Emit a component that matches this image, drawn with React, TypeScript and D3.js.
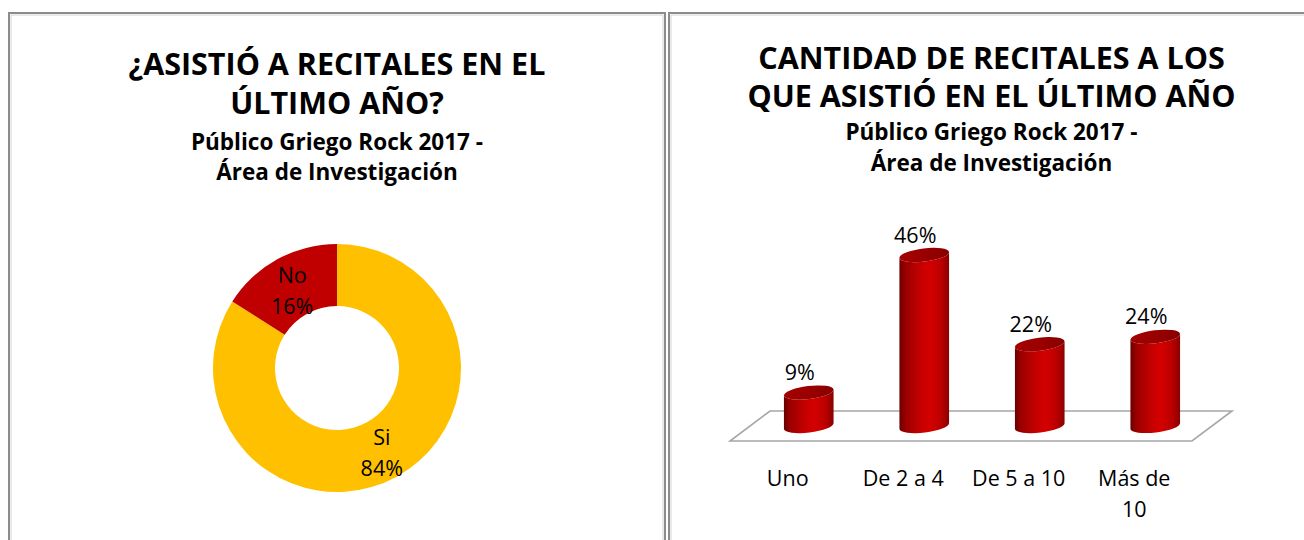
import React from "react";
import * as d3 from "d3";

// datos de los dos gráficos
const pieLabels = ["Si", "No"];
const pieValues = [84, 16];
const pieColors = ["#FFC000", "#C00000"];

const barCategories = [["Uno"], ["De 2 a 4"], ["De 5 a 10"], ["Más de", "10"]];
const barValues = [9, 46, 22, 24];

const leftTitle = ["¿ASISTIÓ A RECITALES EN EL", "ÚLTIMO AÑO?"];
const rightTitle = ["CANTIDAD DE RECITALES A LOS", "QUE ASISTIÓ EN EL ÚLTIMO AÑO"];
const subtitle = ["Público Griego Rock 2017 -", "Área de Investigación"];

const W = 1304;
const H = 540;
const FONT = "'Open Sans', 'Noto Sans', sans-serif";

const Frame = ({ x0, x1, y0 }: { x0: number; x1: number; y0: number }) => (
  <g fill="none">
    <path d={`M${x0},${H + 5}V${y0}H${x1}V${H + 5}`} stroke="#8c8c8c" strokeWidth={2} />
    <path d={`M${x0 + 2},${H + 5}V${y0 + 2}H${x1 - 2}V${H + 5}`} stroke="#d4d4d4" strokeWidth={1} />
  </g>
);

const Titles = ({ cx, lines, y }: { cx: number; lines: string[]; y: number[] }) => (
  <g textAnchor="middle" fontFamily={FONT} fontWeight="bold" fill="#000">
    {lines.map((t, i) => (
      <text key={t} x={cx} y={y[i]} fontSize={30.5}>{t}</text>
    ))}
    {subtitle.map((t, i) => (
      <text key={t} x={cx} y={y[2 + i]} fontSize={22.5}>{t}</text>
    ))}
  </g>
);

const Donut = () => {
  const cx = 337, cy = 368;
  const pie = d3.pie<number>().sort(null).value((d) => d);
  const arc = d3.arc<d3.PieArcDatum<number>>().innerRadius(62).outerRadius(124);
  const labelArc = d3.arc<d3.PieArcDatum<number>>().innerRadius(93).outerRadius(93);
  const arcs = pie(pieValues);
  return (
    <g transform={`translate(${cx},${cy})`}>
      {arcs.map((a, i) => (
        <path key={i} d={arc(a) || ""} fill={pieColors[i]} />
      ))}
      {arcs.map((a, i) => {
        const [lx, ly] = labelArc.centroid(a);
        return (
          <text key={"l" + i} x={lx} textAnchor="middle" fontFamily={FONT} fontSize={21.5} fill="#000">
            <tspan x={lx} y={ly - 4}>{pieLabels[i]}</tspan>
            <tspan x={lx} y={ly + 27}>{d3.format(".0f")(pieValues[i])}%</tspan>
          </text>
        );
      })}
    </g>
  );
};

const Cylinders = () => {
  const frontY = 441;
  const depthX = 40, depthY = -30;
  const x = d3.scaleBand<number>().domain(d3.range(barValues.length)).range([730, 1192]).padding(0);
  const h = d3.scaleLinear().domain([0, 46]).range([0, 171]);
  const baseY = frontY + depthY / 2;
  const rx = 25, ry = 6.5, tilt = 7;
  const c = Math.cos((tilt * Math.PI) / 180), s = Math.sin((tilt * Math.PI) / 180);
  const x0 = x(0)!, x1 = x(barValues.length - 1)! + x.bandwidth();

  return (
    <g>
      <defs>
        <linearGradient id="cylBody" x1="0" x2="1" y1="0" y2="0">
          <stop offset="0" stopColor="#6a0000" />
          <stop offset="0.12" stopColor="#9a0000" />
          <stop offset="0.45" stopColor="#c80000" />
          <stop offset="0.62" stopColor="#d40000" />
          <stop offset="0.85" stopColor="#b80000" />
          <stop offset="1" stopColor="#880000" />
        </linearGradient>
        <linearGradient id="cylTop" x1="0" x2="1" y1="0" y2="0">
          <stop offset="0" stopColor="#a40000" />
          <stop offset="0.5" stopColor="#9a0000" />
          <stop offset="1" stopColor="#870000" />
        </linearGradient>
      </defs>
      <polygon
        points={[
          [x0, frontY],
          [x1, frontY],
          [x1 + depthX, frontY + depthY],
          [x0 + depthX, frontY + depthY],
        ].map((p) => p.join(",")).join(" ")}
        fill="#fff"
        stroke="#a6a6a6"
        strokeWidth={1.6}
      />
      {barValues.map((v, i) => {
        const center = x(i)! + x.bandwidth() / 2;
        const cxb = center + depthX / 2 + 1;
        const topY = baseY - h(v);
        const body =
          `M${cxb - rx * c},${topY + rx * s}` +
          `L${cxb - rx * c},${baseY + rx * s}` +
          `A${rx},${ry} ${-tilt} 0 0 ${cxb + rx * c},${baseY - rx * s}` +
          `L${cxb + rx * c},${topY - rx * s}` +
          `A${rx},${ry} ${-tilt} 0 1 ${cxb - rx * c},${topY + rx * s}Z`;
        return (
          <g key={i}>
            <path d={body} fill="url(#cylBody)" />
            <ellipse cx={cxb} cy={topY} rx={rx} ry={ry} transform={`rotate(${-tilt} ${cxb} ${topY})`} fill="url(#cylTop)" />
            <text x={cxb - 9} y={topY - 12.5} textAnchor="middle" fontFamily={FONT} fontSize={21.5} fill="#000">
              {v}%
            </text>
          </g>
        );
      })}
      {barCategories.map((lines, i) => {
        const center = x(i)! + x.bandwidth() / 2;
        return (
          <text key={"c" + i} textAnchor="middle" fontFamily={FONT} fontSize={21.5} fill="#000">
            {lines.map((t, j) => (
              <tspan key={j} x={center} y={486 + j * 30.5}>{t}</tspan>
            ))}
          </text>
        );
      })}
    </g>
  );
};

export default function App() {
  return (
    <svg
      width={W}
      height={H}
      viewBox={`0 0 ${W} ${H}`}
      style={{ position: "absolute", left: 0, top: 0, background: "#fff" }}
    >
      <rect width={W} height={H} fill="#fff" />
      <Frame x0={9} x1={665} y0={13} />
      <Frame x0={669} x1={1330} y0={13} />
      <Titles cx={337} lines={leftTitle} y={[75, 113.5, 150, 180]} />
      <Titles cx={991.5} lines={rightTitle} y={[68.5, 106.5, 140, 171]} />
      <Donut />
      <Cylinders />
    </svg>
  );
}
